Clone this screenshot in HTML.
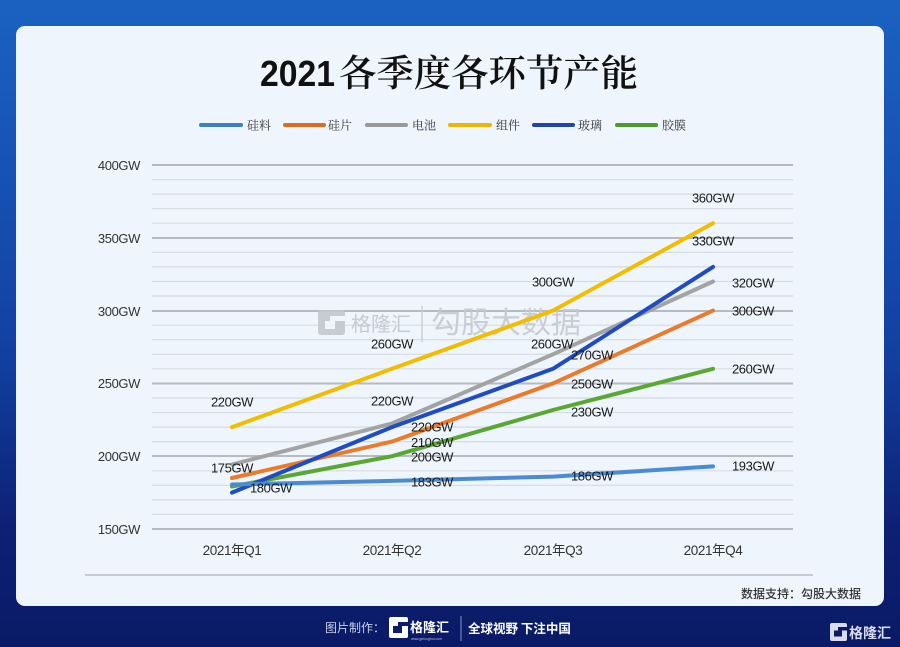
<!DOCTYPE html>
<html><head><meta charset="utf-8"><style>
html,body{margin:0;padding:0;width:900px;height:647px;overflow:hidden}
body{background:linear-gradient(to bottom,#1b62c0 0%,#1650b2 30%,#1240a0 55%,#0c2074 82%,#0a1a66 100%)}
svg{display:block}
.ax{font-family:"Liberation Sans","Noto Sans CJK SC",sans-serif;font-size:13px;fill:#333;letter-spacing:-0.4px}
.dl{font-family:"Liberation Sans",sans-serif;font-size:13px;fill:#1a1a1a;letter-spacing:-0.4px}
.lg{font-family:"Liberation Serif","Noto Serif CJK SC",serif;font-size:12px;fill:#333}
</style></head><body>
<svg width="900" height="647" viewBox="0 0 900 647" xmlns="http://www.w3.org/2000/svg">
<rect x="16" y="26" width="868" height="580" rx="9" fill="#eef5fc"/>
<!-- title -->
<text x="260" y="86" font-family="Liberation Sans,sans-serif" font-weight="bold" font-size="36" fill="#111" textLength="75" lengthAdjust="spacingAndGlyphs">2021</text>
<text x="339" y="86" font-family="Noto Serif CJK SC,serif" font-weight="600" font-size="37" fill="#111" textLength="299" lengthAdjust="spacingAndGlyphs">各季度各环节产能</text>
<!-- legend -->
<g stroke-width="4" stroke-linecap="round">
<line x1="201" y1="125" x2="241" y2="125" stroke="#3d7fc4"/>
<line x1="285" y1="125" x2="324" y2="125" stroke="#e06a1e"/>
<line x1="367" y1="125" x2="406" y2="125" stroke="#999"/>
<line x1="450" y1="125" x2="490" y2="125" stroke="#f0b500"/>
<line x1="534" y1="125" x2="573" y2="125" stroke="#1e45a8"/>
<line x1="617" y1="125" x2="656" y2="125" stroke="#4a9a2e"/>
</g>
<text class="lg" x="247" y="129.5">硅料</text>
<text class="lg" x="328" y="129.5">硅片</text>
<text class="lg" x="412" y="129.5">电池</text>
<text class="lg" x="496" y="129.5">组件</text>
<text class="lg" x="578" y="129.5">玻璃</text>
<text class="lg" x="662" y="129.5">胶膜</text>
<!-- minor grid -->
<g stroke="#d6dbe1" stroke-width="1.2">
<line x1="152" x2="793" y1="514.4" y2="514.4"/><line x1="152" x2="793" y1="499.9" y2="499.9"/><line x1="152" x2="793" y1="485.3" y2="485.3"/><line x1="152" x2="793" y1="470.8" y2="470.8"/>
<line x1="152" x2="793" y1="441.6" y2="441.6"/><line x1="152" x2="793" y1="427.1" y2="427.1"/><line x1="152" x2="793" y1="412.5" y2="412.5"/><line x1="152" x2="793" y1="398.0" y2="398.0"/>
<line x1="152" x2="793" y1="368.8" y2="368.8"/><line x1="152" x2="793" y1="354.3" y2="354.3"/><line x1="152" x2="793" y1="339.7" y2="339.7"/><line x1="152" x2="793" y1="325.2" y2="325.2"/>
<line x1="152" x2="793" y1="296.0" y2="296.0"/><line x1="152" x2="793" y1="281.5" y2="281.5"/><line x1="152" x2="793" y1="266.9" y2="266.9"/><line x1="152" x2="793" y1="252.4" y2="252.4"/>
<line x1="152" x2="793" y1="223.2" y2="223.2"/><line x1="152" x2="793" y1="208.7" y2="208.7"/><line x1="152" x2="793" y1="194.1" y2="194.1"/><line x1="152" x2="793" y1="179.6" y2="179.6"/>
</g>
<!-- major grid -->
<g stroke="#b6bac1" stroke-width="2">
<line x1="152" x2="793" y1="165" y2="165"/><line x1="152" x2="793" y1="238" y2="238"/><line x1="152" x2="793" y1="311" y2="311"/>
<line x1="152" x2="793" y1="383.5" y2="383.5"/><line x1="152" x2="793" y1="456" y2="456"/><line x1="152" x2="793" y1="529" y2="529"/>
</g>
<line x1="85" x2="813" y1="575" y2="575" stroke="#c6cbd2" stroke-width="2"/>
<!-- y labels -->
<g class="ax" text-anchor="end">
<text x="140" y="170">400GW</text><text x="140" y="243">350GW</text><text x="140" y="316">300GW</text>
<text x="140" y="388">250GW</text><text x="140" y="461">200GW</text><text x="140" y="534">150GW</text>
</g>
<!-- x labels -->
<g class="ax" text-anchor="middle" style="font-size:13.5px">
<text x="232" y="555">2021年Q1</text><text x="392" y="555">2021年Q2</text><text x="553" y="555">2021年Q3</text><text x="713" y="555">2021年Q4</text>
</g>
<!-- watermark -->
<g opacity="0.9">
<rect x="318" y="310" width="27" height="25" rx="3" fill="#c3c8cf"/>
<rect x="330" y="316" width="15" height="5" fill="#eef5fc"/>
<rect x="325" y="321" width="10" height="8" fill="#eef5fc"/>
<text x="351" y="331" font-family="Noto Sans CJK SC,sans-serif" font-size="20" fill="#c3c8cf">格隆汇</text>
<line x1="422" y1="306" x2="422" y2="342" stroke="#c8ccd3" stroke-width="1.5"/>
<text x="431" y="333" font-family="Noto Sans CJK SC,sans-serif" font-size="30" fill="#c6cad1">勾股大数据</text>
</g>
<!-- series -->
<g fill="none" stroke-width="4" stroke-linecap="round" stroke-linejoin="round">
<polyline stroke="#f2bd00" points="232,427.1 392,368.8 553,310.6 713,223.2"/>
<polyline stroke="#a3a3a3" points="232,464.5 392,423.5 553,354.3 713,281.5"/>
<polyline stroke="#ec7a2b" points="232,478 392,441.6 553,383.4 713,310.6"/>
<polyline stroke="#5aa834" points="232,486.5 392,456.2 553,410 713,368.8"/>
<polyline stroke="#1f4cc0" points="232,492.6 392,427.1 553,368.8 713,266.9"/>
<polyline stroke="#4a8bd2" points="232,484.5 392,480.9 553,476.6 713,466.4"/>
</g>
<!-- data labels -->
<g class="dl" text-anchor="middle">
<text x="232" y="406.5">220GW</text>
<text x="232" y="472.5">175GW</text>
<text x="271" y="492.5">180GW</text>
<text x="392" y="348.5">260GW</text>
<text x="392" y="405.5">220GW</text>
<text x="432" y="431.5">220GW</text>
<text x="432" y="447">210GW</text>
<text x="432" y="461.5">200GW</text>
<text x="432" y="486.5">183GW</text>
<text x="553" y="286.5">300GW</text>
<text x="552" y="348.5">260GW</text>
<text x="592" y="359.5">270GW</text>
<text x="592" y="388.5">250GW</text>
<text x="592" y="416.5">230GW</text>
<text x="592" y="480.5">186GW</text>
<text x="713" y="202.5">360GW</text>
<text x="713" y="245.5">330GW</text>
<text x="753" y="287.5">320GW</text>
<text x="753" y="315.5">300GW</text>
<text x="753" y="373.5">260GW</text>
<text x="753" y="470.5">193GW</text>
</g>
<!-- data source -->
<text x="861" y="598" text-anchor="end" font-family="Noto Sans CJK SC,sans-serif" font-size="12" font-weight="500" fill="#333">数据支持：勾股大数据</text>
<!-- footer -->
<text x="325" y="632" font-family="Noto Sans CJK SC,sans-serif" font-size="12" fill="#c9d0e6">图片制作：</text>
<rect x="389" y="617" width="19" height="21" rx="2" fill="#fff"/>
<rect x="398" y="622" width="10" height="4" fill="#0c1d6c"/>
<rect x="393" y="626" width="9" height="7" fill="#0c1d6c"/>
<text x="410" y="632" font-family="Noto Sans CJK SC,sans-serif" font-size="13" font-weight="bold" fill="#fff">格隆汇</text>
<text x="411" y="640" font-family="Liberation Sans,sans-serif" font-size="3.5" fill="#b8c0dc">www.gelonghui.com</text>
<line x1="461" y1="616" x2="461" y2="641" stroke="#8a93c0" stroke-width="1"/>
<text x="468" y="633" font-family="Noto Sans CJK SC,sans-serif" font-size="12.5" font-weight="bold" fill="#fff">全球视野 下注中国</text>
<rect x="830" y="623" width="17" height="18" rx="2" fill="#d8dcec"/>
<rect x="838" y="627" width="9" height="3.5" fill="#0a1a66"/>
<rect x="834" y="630.5" width="8" height="6" fill="#0a1a66"/>
<text x="849" y="638" font-family="Noto Sans CJK SC,sans-serif" font-size="14" font-weight="bold" fill="#d8dcec">格隆汇</text>
</svg>
</body></html>
